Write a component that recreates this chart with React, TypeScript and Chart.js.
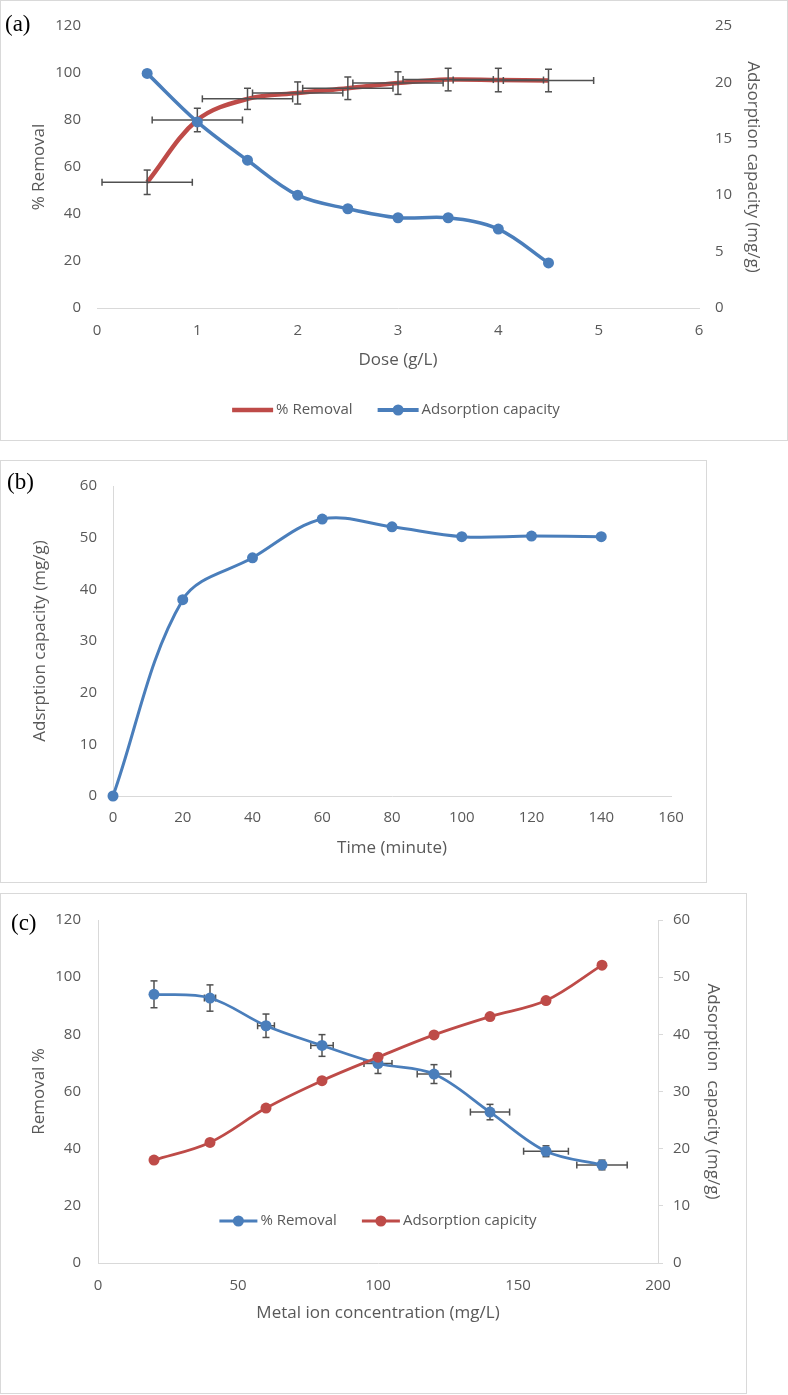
import React, { useEffect, useRef } from 'react';
import { Chart, registerables } from 'chart.js';

Chart.register(...registerables);

const BLUE = '#4A7EBB';
const RED = '#BE4B48';
const TEXT = '#595959';
const AXIS = '#D9D9D9';
const ERR = '#505050';
const FONT = "'Open Sans', 'Noto Sans', sans-serif";

// ---------- (a) Dose ----------
const doseValues = [0.5, 1, 1.5, 2, 2.5, 3, 3.5, 4, 4.5];
const doseRemoval = [53.5, 80, 89, 91.5, 93.5, 95.7, 97.2, 97, 96.8];
const doseRemovalErrY = [5.2, 5, 4.5, 4.7, 4.8, 4.8, 4.8, 5, 4.8];
const doseRemovalErrX = [0.45, 0.45, 0.45, 0.45, 0.45, 0.45, 0.45, 0.45, 0.45];
const doseCapacity = [20.8, 16.5, 13.1, 10, 8.8, 8, 8, 7, 4];

// ---------- (b) Time ----------
const timeMinutes = [0, 20, 40, 60, 80, 100, 120, 140];
const timeCapacity = [0, 38, 46.1, 53.6, 52.1, 50.2, 50.3, 50.2];

// ---------- (c) Concentration ----------
const concValues = [20, 40, 60, 80, 100, 120, 140, 160, 180];
const concRemoval = [94, 92.7, 83, 76.1, 69.8, 66.1, 52.8, 39.1, 34.3];
const concRemovalErrY = [4.7, 4.6, 4.1, 3.8, 3.5, 3.3, 2.7, 1.9, 1.7];
const concRemovalErrX = [1, 2, 3, 4, 5, 6, 7, 8, 9];
const concCapacity = [18, 21.1, 27.1, 31.9, 36, 39.9, 43.1, 45.9, 52.1];

const pts = (xs: number[], ys: number[]) => xs.map((x, i) => ({ x, y: ys[i] }));

type AxisOpts = {
  position: 'left' | 'right' | 'bottom';
  min: number;
  max: number;
  step: number;
  size: number;
  tickPad: number;
  title?: string;
  titlePad?: any;
  border?: boolean;
  tickMark?: number;
};

function linAxis(o: AxisOpts): any {
  const horizontal = o.position === 'bottom';
  return {
    type: 'linear',
    position: o.position,
    min: o.min,
    max: o.max,
    ticks: {
      stepSize: o.step,
      padding: o.tickPad,
      color: TEXT,
      font: { family: FONT, size: 15 },
      autoSkip: false,
      maxRotation: 0,
      minRotation: 0,
    },
    grid: o.tickMark
      ? { display: true, drawOnChartArea: false, drawTicks: true, tickLength: o.tickMark, color: AXIS, lineWidth: 1 }
      : { display: false, drawTicks: false, tickLength: 0 },
    border: { display: !!o.border, color: AXIS, width: 1 },
    title: o.title
      ? { display: true, text: o.title, color: TEXT, font: { family: FONT, size: 17 }, padding: o.titlePad }
      : { display: false },
    afterFit: (s: any) => {
      if (horizontal) s.height = o.size;
      else s.width = o.size;
    },
  };
}

function errorBarPlugin(
  dsIndex: number,
  when: 'before' | 'after',
  xs: number[],
  ys: number[],
  xErr: number[],
  yErr: number[],
  yAxis: string
) {
  const draw = (chart: any) => {
    const ctx = chart.ctx;
    const sx = chart.scales.x;
    const sy = chart.scales[yAxis];
    const cap = 3.5;
    ctx.save();
    ctx.strokeStyle = ERR;
    ctx.lineWidth = 1.5;
    const seg = (x1: number, y1: number, x2: number, y2: number) => {
      ctx.beginPath();
      ctx.moveTo(x1, y1);
      ctx.lineTo(x2, y2);
      ctx.stroke();
    };
    xs.forEach((xv, i) => {
      const px = sx.getPixelForValue(xv);
      const py = sy.getPixelForValue(ys[i]);
      const t = sy.getPixelForValue(ys[i] + yErr[i]);
      const b = sy.getPixelForValue(ys[i] - yErr[i]);
      seg(px, t, px, b);
      seg(px - cap, t, px + cap, t);
      seg(px - cap, b, px + cap, b);
      const l = sx.getPixelForValue(xv - xErr[i]);
      const r = sx.getPixelForValue(xv + xErr[i]);
      seg(l, py, r, py);
      seg(l, py - cap, l, py + cap);
      seg(r, py - cap, r, py + cap);
    });
    ctx.restore();
  };
  return {
    id: 'errorBars',
    beforeDatasetDraw(chart: any, args: any) {
      if (when === 'before' && args.index === dsIndex) draw(chart);
    },
    afterDatasetDraw(chart: any, args: any) {
      if (when === 'after' && args.index === dsIndex) draw(chart);
    },
  };
}

type LegendItem = { label: string; color: string; marker: boolean; lineWidth: number };

function legendPlugin(cx: number, cy: number, items: LegendItem[], lineLen: number, gap: number, itemGap: number) {
  return {
    id: 'customLegend',
    afterDraw(chart: any) {
      const ctx = chart.ctx;
      ctx.save();
      ctx.font = `15px ${FONT}`;
      const widths = items.map((it) => ctx.measureText(it.label).width);
      const total = widths.reduce((s, w) => s + lineLen + gap + w, 0) + itemGap * (items.length - 1);
      let x = cx - total / 2;
      items.forEach((it, i) => {
        ctx.strokeStyle = it.color;
        ctx.lineWidth = it.lineWidth;
        ctx.lineCap = 'butt';
        ctx.beginPath();
        ctx.moveTo(x, cy);
        ctx.lineTo(x + lineLen, cy);
        ctx.stroke();
        if (it.marker) {
          ctx.fillStyle = it.color;
          ctx.beginPath();
          ctx.arc(x + lineLen / 2, cy, 5.5, 0, Math.PI * 2);
          ctx.fill();
        }
        ctx.fillStyle = TEXT;
        ctx.textBaseline = 'middle';
        ctx.textAlign = 'left';
        ctx.fillText(it.label, x + lineLen + gap, cy);
        x += lineLen + gap + widths[i] + itemGap;
      });
      ctx.restore();
    },
  };
}

const baseOptions = (padTop: number, padRight: number, scales: any) => ({
  responsive: false,
  animation: false,
  devicePixelRatio: 1,
  layout: { padding: { left: 0, right: padRight, top: padTop, bottom: 0 } },
  plugins: { legend: { display: false }, tooltip: { enabled: false } },
  scales,
});

function makeConfigA(): any {
  return {
    type: 'line',
    data: {
      datasets: [
        {
          label: '% Removal',
          data: pts(doseValues, doseRemoval),
          yAxisID: 'y',
          borderColor: RED,
          backgroundColor: RED,
          borderWidth: 4.5,
          pointRadius: 0,
          tension: 0.35,
          order: 2,
          fill: false,
        },
        {
          label: 'Adsorption capacity',
          data: pts(doseValues, doseCapacity),
          yAxisID: 'y1',
          borderColor: BLUE,
          backgroundColor: BLUE,
          pointBackgroundColor: BLUE,
          borderWidth: 3.5,
          pointRadius: 5.5,
          pointBorderWidth: 0,
          tension: 0.35,
          order: 1,
          fill: false,
          clip: false,
        },
      ],
    },
    options: baseOptions(21, 0, {
      x: linAxis({ position: 'bottom', min: 0, max: 6, step: 1, size: 132, tickPad: 14, title: 'Dose (g/L)', titlePad: { top: 0, bottom: 70 }, border: true }),
      y: linAxis({ position: 'left', min: 0, max: 120, step: 20, size: 96, tickPad: 16, title: '% Removal', titlePad: { top: 28, bottom: 0 } }),
      y1: linAxis({ position: 'right', min: 0, max: 25, step: 5, size: 88, tickPad: 16, title: 'Adsorption capacity (mg/g)', titlePad: { top: 24, bottom: 0 } }),
    }),
    plugins: [
      errorBarPlugin(0, 'after', doseValues, doseRemoval, doseRemovalErrX, doseRemovalErrY, 'y'),
      legendPlugin(395, 409, [
        { label: '% Removal', color: RED, marker: false, lineWidth: 4.5 },
        { label: 'Adsorption capacity', color: BLUE, marker: true, lineWidth: 4 },
      ], 41, 3, 25),
    ],
  };
}

function makeConfigB(): any {
  return {
    type: 'line',
    data: {
      datasets: [
        {
          label: 'Adsrption capacity (mg/g)',
          data: pts(timeMinutes, timeCapacity),
          yAxisID: 'y',
          borderColor: BLUE,
          backgroundColor: BLUE,
          pointBackgroundColor: BLUE,
          borderWidth: 3,
          pointRadius: 5.5,
          pointBorderWidth: 0,
          tension: 0.35,
          fill: false,
          clip: false,
        },
      ],
    },
    options: baseOptions(21, 35, {
      x: linAxis({ position: 'bottom', min: 0, max: 160, step: 20, size: 86, tickPad: 13, title: 'Time (minute)', titlePad: { top: 0, bottom: 24 }, border: true }),
      y: linAxis({ position: 'left', min: 0, max: 60, step: 10, size: 112, tickPad: 16, title: 'Adsrption capacity (mg/g)', titlePad: { top: 29, bottom: 0 }, border: true }),
    }),
  };
}

function makeConfigC(): any {
  return {
    type: 'line',
    data: {
      datasets: [
        {
          label: '% Removal',
          data: pts(concValues, concRemoval),
          yAxisID: 'y',
          borderColor: BLUE,
          backgroundColor: BLUE,
          pointBackgroundColor: BLUE,
          borderWidth: 2.75,
          pointRadius: 5.5,
          pointBorderWidth: 0,
          tension: 0.35,
          order: 2,
          fill: false,
        },
        {
          label: 'Adsorption capicity',
          data: pts(concValues, concCapacity),
          yAxisID: 'y1',
          borderColor: RED,
          backgroundColor: RED,
          pointBackgroundColor: RED,
          borderWidth: 2.75,
          pointRadius: 5.5,
          pointBorderWidth: 0,
          tension: 0.35,
          order: 1,
          fill: false,
        },
      ],
    },
    options: baseOptions(20, 0, {
      x: linAxis({ position: 'bottom', min: 0, max: 200, step: 50, size: 130, tickPad: 14, title: 'Metal ion concentration (mg/L)', titlePad: { top: 0, bottom: 70 }, border: true }),
      y: linAxis({ position: 'left', min: 0, max: 120, step: 20, size: 97, tickPad: 17, title: 'Removal %', titlePad: { top: 28, bottom: 0 }, border: true }),
      y1: linAxis({ position: 'right', min: 0, max: 60, step: 10, size: 88, tickPad: 10, title: 'Adsorption  capacity (mg/g)', titlePad: { top: 23, bottom: 0 }, border: true, tickMark: 5 }),
    }),
    plugins: [
      errorBarPlugin(0, 'before', concValues, concRemoval, concRemovalErrX, concRemovalErrY, 'y'),
      legendPlugin(377, 327, [
        { label: '% Removal', color: BLUE, marker: true, lineWidth: 3 },
        { label: 'Adsorption capicity', color: RED, marker: true, lineWidth: 3 },
      ], 38, 3, 25),
    ],
  };
}

function Panel(props: { left: number; top: number; width: number; height: number; tag: string; tagLeft: number; tagTop: number; make: () => any }) {
  const ref = useRef<HTMLCanvasElement>(null);
  const cw = props.width - 2;
  const ch = props.height - 2;
  useEffect(() => {
    const chart = new Chart(ref.current as HTMLCanvasElement, props.make());
    return () => chart.destroy();
  }, []);
  return (
    <>
      <div
        style={{
          position: 'absolute',
          left: props.left,
          top: props.top,
          width: props.width,
          height: props.height,
          boxSizing: 'border-box',
          border: `1px solid ${AXIS}`,
          background: '#fff',
        }}
      >
        <canvas ref={ref} width={cw} height={ch} style={{ display: 'block', width: cw, height: ch }} />
      </div>
      <div
        style={{
          position: 'absolute',
          left: props.tagLeft,
          top: props.tagTop,
          fontFamily: "'Liberation Serif', 'DejaVu Serif', serif",
          fontSize: 23,
          lineHeight: '23px',
          color: '#000',
          whiteSpace: 'nowrap',
        }}
      >
        {props.tag}
      </div>
    </>
  );
}

export default function App() {
  return (
    <div style={{ position: 'absolute', left: 0, top: 0, width: 788, height: 1395, background: '#fff' }}>
      <Panel left={0} top={0} width={788} height={441} tag="(a)" tagLeft={5} tagTop={12} make={makeConfigA} />
      <Panel left={0} top={460} width={707} height={423} tag="(b)" tagLeft={7} tagTop={470} make={makeConfigB} />
      <Panel left={0} top={893} width={747} height={501} tag="(c)" tagLeft={11} tagTop={911} make={makeConfigC} />
    </div>
  );
}
